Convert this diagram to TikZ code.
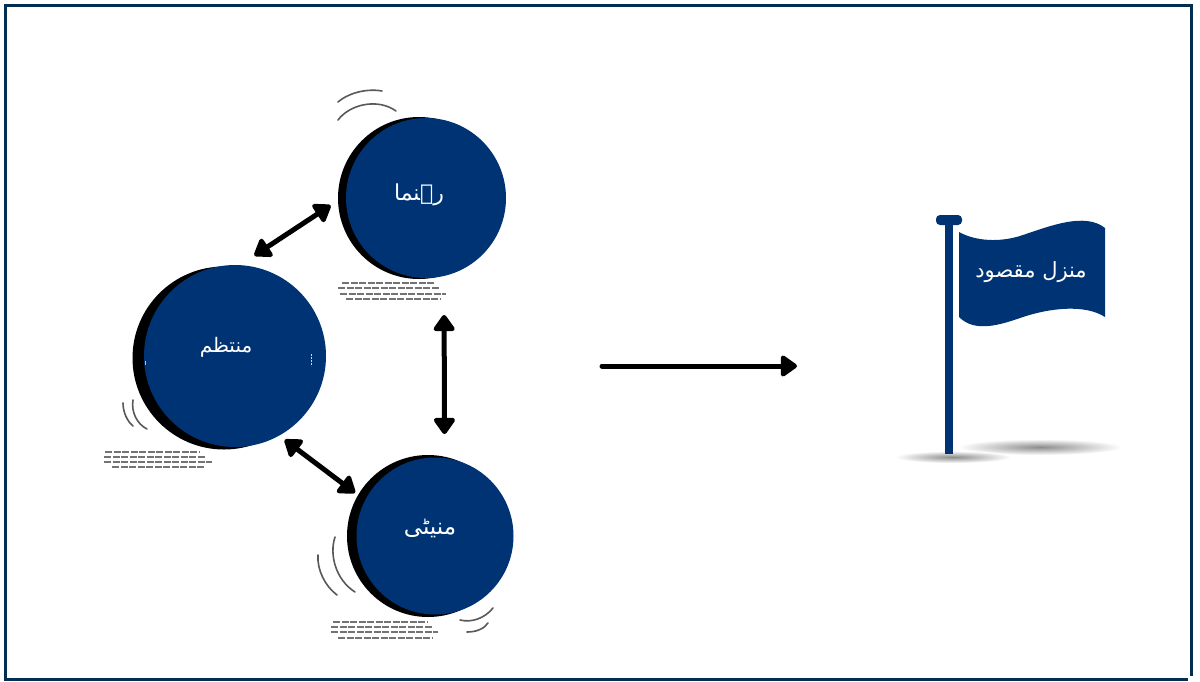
\documentclass[tikz,border=0pt]{standalone}
\usepackage{fontspec}
\usetikzlibrary{arrows.meta}
\TeXXeTstate=1
\newfontfamily\urdufont[Script=Arabic]{DejaVu Sans}
\definecolor{navy}{RGB}{0,51,115}
\definecolor{framecol}{RGB}{2,46,82}
\tikzset{
  x=1pt,y=-1pt,
  disc/.style={circle,fill=navy,draw=none,inner sep=0pt,outer sep=0pt,minimum size=#1},
  discback/.style={circle,fill=black,draw=none,inner sep=0pt,outer sep=0pt,minimum size=#1},
  urdu/.style={text=white,inner sep=0pt,font=\urdufont\fontsize{#1}{#1}\selectfont},
  link/.style={line width=5pt,black,{Triangle[round,width=24pt,length=18pt]}-{Triangle[round,width=24pt,length=18pt]}},
  flow/.style={line width=5pt,black,line cap=round,-{Triangle[round,width=24pt,length=18pt]}},
  swish/.style={line width=1.6pt,black!65,line cap=round},
  blurb/.style={line width=2pt,black!55,dash pattern=on 7pt off 1.5pt},
  ground/.style={shade,inner color=black!45,outer color=white,draw=none},
  rim/.style={framecol,line width=3pt}
}
\begin{document}
\begin{tikzpicture}
\useasboundingbox (0,0) rectangle (1200,681);
\fill[white] (0,0) rectangle (1200,681);
\draw[rim] (4,5.5) -- (1193,5.5);
\draw[rim] (5.5,4) -- (5.5,681);
\draw[rim] (4,679.5) -- (1188,679.5);
\draw[rim] (1191.5,4) -- (1191.5,676);

% discs
\node[discback=162pt] (topback) at (419,198) {};
\node[disc=160pt] (top) at (426,198) {};
\node[discback=183pt] (leftback) at (224,358) {};
\node[disc=182pt] (left) at (235,356) {};
\node[discback=162pt] (botback) at (428,536) {};
\node[disc=157pt] (bot) at (435,536) {};

% labels
\node[urdu=22] (toplabel) at (419,195) {\beginR رہنما\endR};
\node[urdu=20] (leftlabel) at (226,347) {\beginR منتظم\endR};
\node[urdu=23] (botlabel) at (430,528) {\beginR منیٹی\endR};

% connectors
\draw[link,shorten <=17.5pt,shorten >=18.5pt] (left.87) -- (top.178);
\draw[link,shorten <=39pt,shorten >=24pt] (top.-77) -- (bot.83.4);
\draw[link,shorten <=7pt,shorten >=12.5pt] (left.-61.5) -- (bot.153.1);

% motion strokes
\draw[swish] (338,102) .. controls (347,94) and (365,88) .. (382,91);
\draw[swish] (338,120) .. controls (350,104) and (378,98) .. (396,111);
\draw[swish] (123,403) .. controls (123,412) and (127,421) .. (133,426);
\draw[swish] (133,400) .. controls (131,412) and (137,424) .. (147,429);
\draw[swish] (318,555) .. controls (317,570) and (325,586) .. (337,595);
\draw[swish] (335,537) .. controls (329,555) and (336,580) .. (355,592);
\draw[swish] (460,620) .. controls (472,623) and (485,618) .. (493,608);
\draw[swish] (467,632) .. controls (476,632) and (484,629) .. (488,623);

% fine print under the discs
\draw[blurb] (342,283) -- (435,283);
\draw[blurb] (338,288) -- (440,288);
\draw[blurb] (340,293.5) -- (446,293.5);
\draw[blurb] (346,299) -- (441,299);
\draw[blurb] (105,452) -- (200,452);
\draw[blurb] (104,457) -- (205,457);
\draw[blurb] (104,462) -- (212,462);
\draw[blurb] (112,467) -- (205,467);
\draw[blurb] (333,622) -- (428,622);
\draw[blurb] (331,627) -- (433,627);
\draw[blurb] (331,632) -- (438,632);
\draw[blurb] (338,638) -- (433,638);

% marks on the left disc
\draw[white!70!navy,line width=1pt] (145,361) -- (145,365);
\draw[white!80!navy,line width=1pt,dash pattern=on 2pt off 1pt] (311,354) -- (311,366);

% main arrow
\coordinate (flowstart) at (602,366);
\coordinate (flowend) at (797,366);
\draw[flow] (flowstart) -- (flowend);

% flag
\path[ground] (1040,447) ellipse [x radius=82pt,y radius=8pt];
\path[ground] (953,457) ellipse [x radius=58pt,y radius=6pt];
\fill[navy] (945,220) rectangle (952.5,454);
\fill[navy,rounded corners=4pt] (936,215) rectangle (962,225);
\fill[navy] (959,232) .. controls (975,241) and (1000,243) .. (1023,235)
  .. controls (1050,226) and (1085,212) .. (1105,228)
  -- (1105,317) .. controls (1085,304) and (1050,308) .. (1023,317)
  .. controls (1000,325) and (975,333) .. (959,317) -- cycle;
\node[urdu=21] (flaglabel) at (1031,272) {\beginR منزل مقصود\endR};
\end{tikzpicture}
\end{document}
